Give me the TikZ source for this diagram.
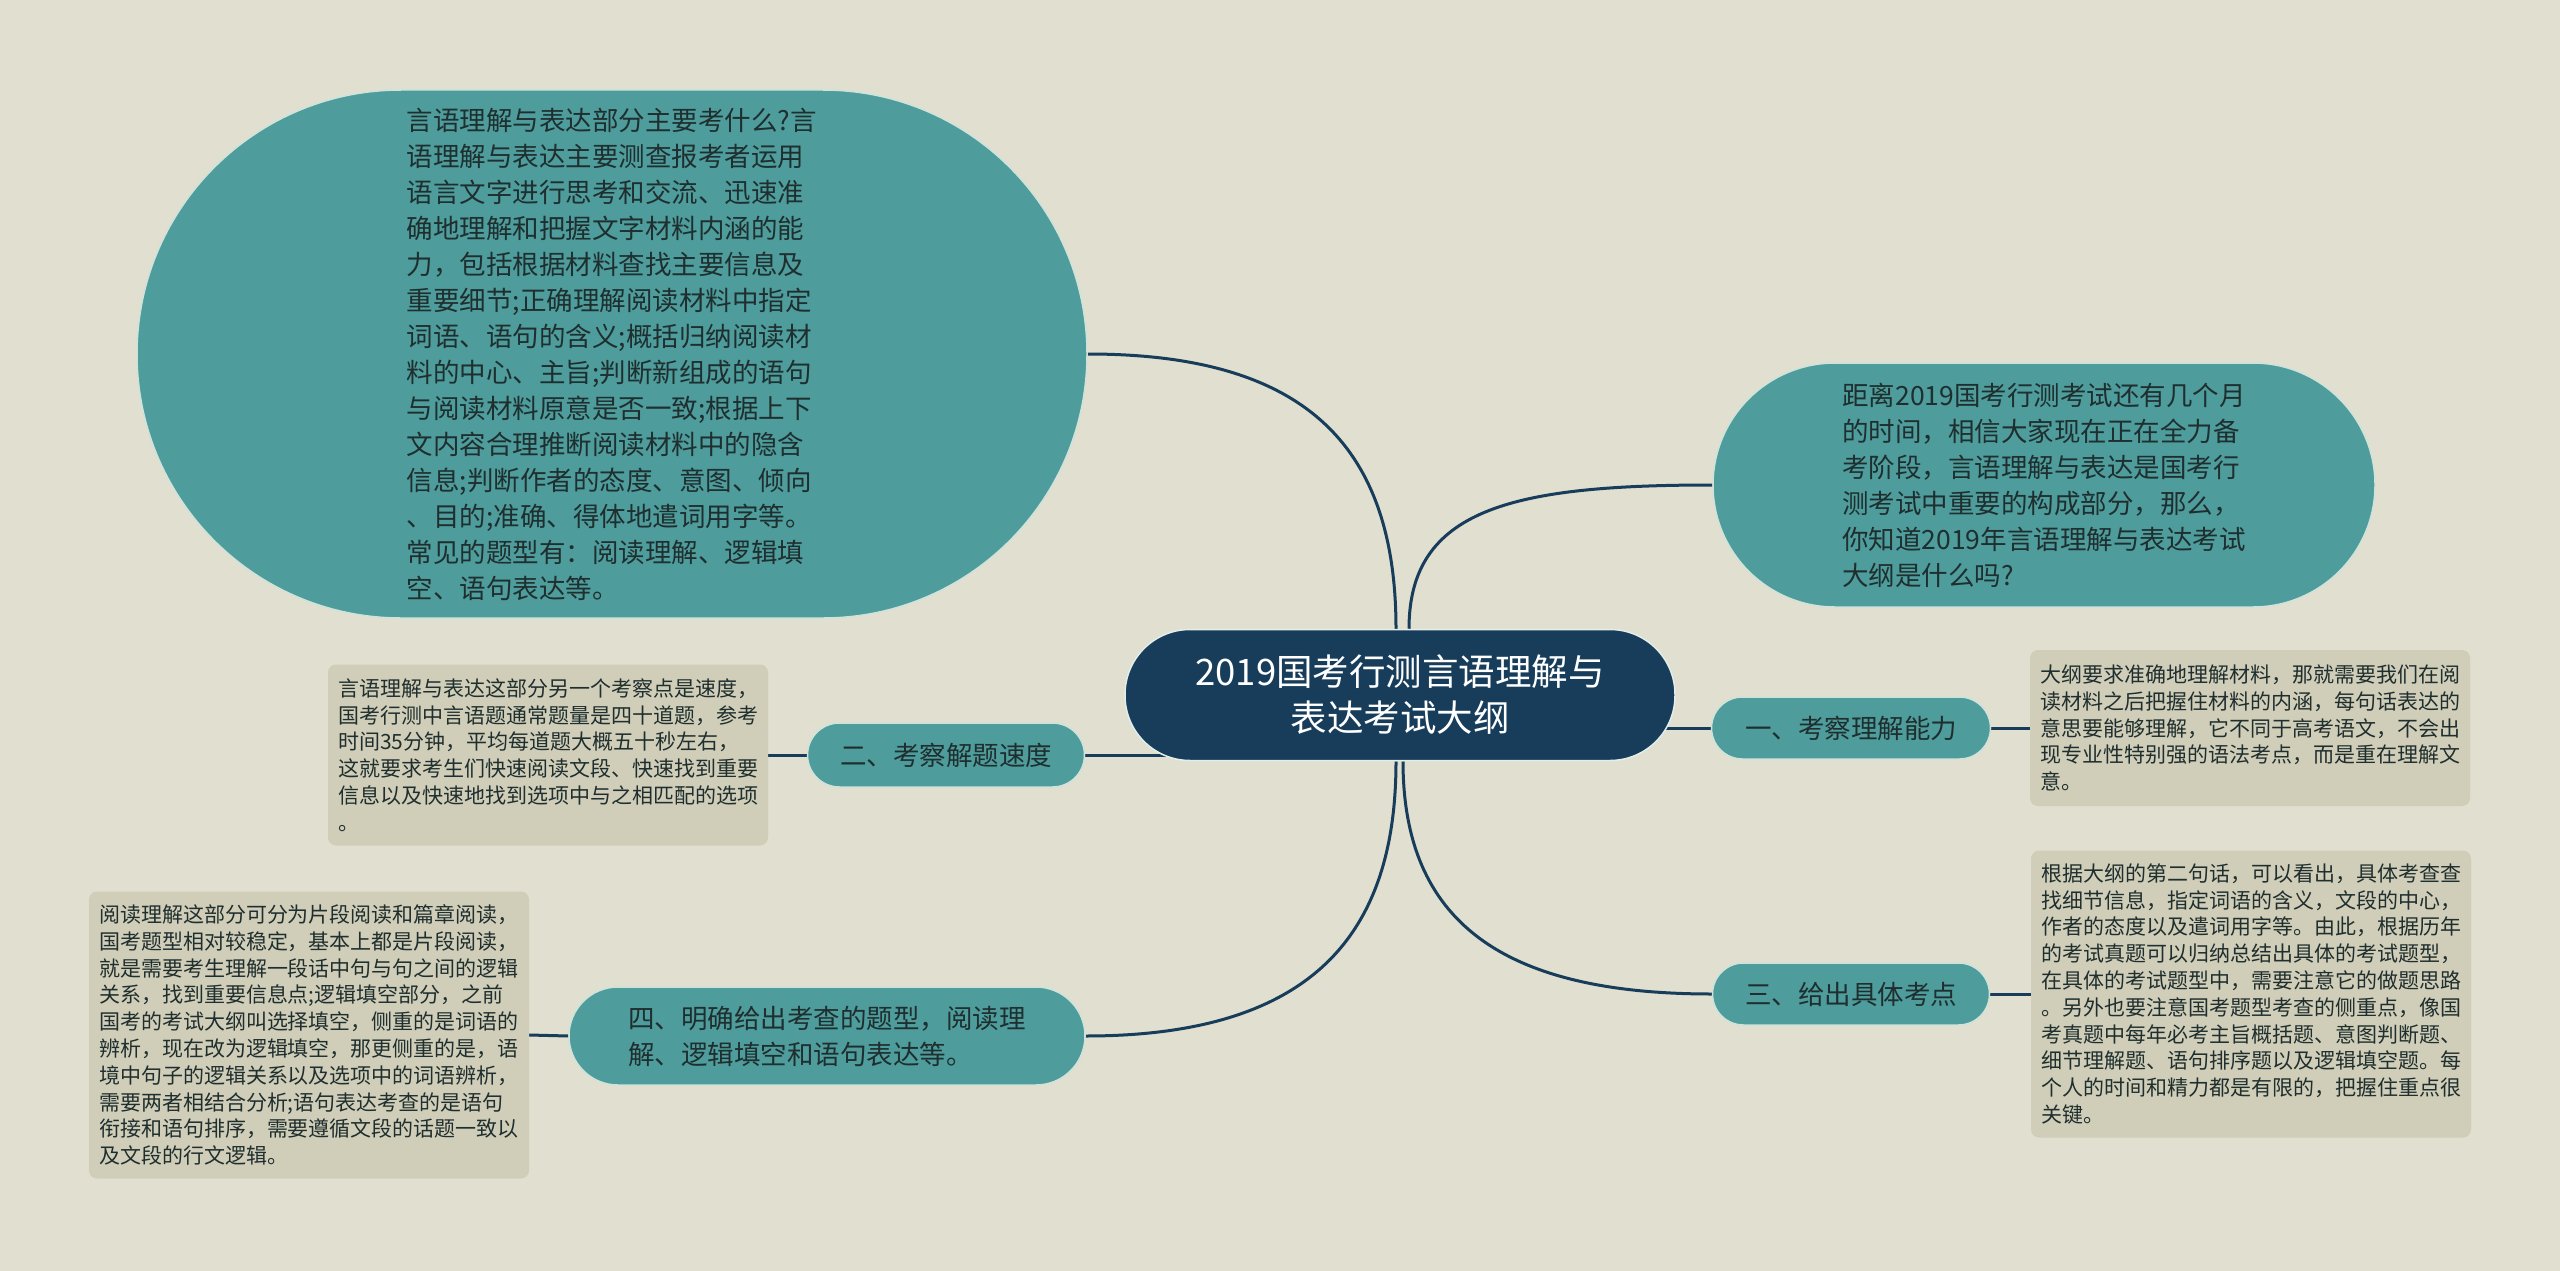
\documentclass[tikz,border=0pt]{standalone}
\usepackage{fontspec}
\setmainfont{Noto Sans CJK SC}
\usetikzlibrary{backgrounds}

\definecolor{bgpaper}{HTML}{E0DFD0}
\definecolor{tealfill}{HTML}{4E9C9C}
\definecolor{tealedge}{HTML}{CFE3DA}
\definecolor{navy}{HTML}{173D5B}
\definecolor{leaffill}{HTML}{D0CEB8}
\definecolor{inkdark}{HTML}{1F2E2E}

\tikzset{
  topic/.style={draw=tealedge, line width=1.5pt, fill=tealfill, text=inkdark,
    align=left, inner sep=0pt, font=\fontsize{26.5}{36}\selectfont},
  rootnode/.style={draw=tealedge!60, line width=1.5pt, fill=navy, text=white,
    align=center, inner sep=0pt, font=\fontsize{36.5}{46}\selectfont},
  leaf/.style={fill=leaffill, rounded corners=8pt, text=inkdark, align=left,
    text width=420pt, inner xsep=10pt, inner ysep=0pt,
    font=\fontsize{21}{26.8}\selectfont},
  link/.style={draw=navy, line width=3pt},
}

\begin{document}
\begin{tikzpicture}[x=1pt, y=-1pt]
        \useasboundingbox (0,0) rectangle (2560,1271);

        % centre
        \node[rootnode, minimum width=550pt, minimum height=131pt, rounded corners=65pt] (root) at (1400,695)
            {2019国考行测言语理解与\\表达考试大纲};

        % big topics
        \node[topic, minimum width=950pt, minimum height=528pt, rounded corners=264pt] (intro) at (612,354)
            {言语理解与表达部分主要考什么?言\\
             语理解与表达主要测查报考者运用\\
             语言文字进行思考和交流、迅速准\\
             确地理解和把握文字材料内涵的能\\
             力，包括根据材料查找主要信息及\\
             重要细节;正确理解阅读材料中指定\\
             词语、语句的含义;概括归纳阅读材\\
             料的中心、主旨;判断新组成的语句\\
             与阅读材料原意是否一致;根据上下\\
             文内容合理推断阅读材料中的隐含\\
             信息;判断作者的态度、意图、倾向\\
             、目的;准确、得体地遣词用字等。\\
             常见的题型有：阅读理解、逻辑填\\
             空、语句表达等。};
        \node[topic, minimum width=662pt, minimum height=244pt, rounded corners=122pt] (lead) at (2044,485)
            {距离2019国考行测考试还有几个月\\
             的时间，相信大家现在正在全力备\\
             考阶段，言语理解与表达是国考行\\
             测考试中重要的构成部分，那么，\\
             你知道2019年言语理解与表达考试\\
             大纲是什么吗?};

        % numbered topics
        \node[topic, minimum width=279pt, minimum height=62pt, rounded corners=31pt] (one) at (1851,728) {一、考察理解能力};
        \node[topic, minimum width=277pt, minimum height=64pt, rounded corners=32pt] (two) at (946,755) {二、考察解题速度};
        \node[topic, minimum width=277pt, minimum height=62pt, rounded corners=31pt] (three) at (1851,994) {三、给出具体考点};
        \node[topic, minimum width=516pt, minimum height=98pt, rounded corners=49pt] (four) at (827,1036)
            {四、明确给出考查的题型，阅读理\\解、逻辑填空和语句表达等。};

        % details
        \node[leaf, minimum height=156pt] (oneleaf) at (2250,728)
            {大纲要求准确地理解材料，那就需要我们在阅\\
             读材料之后把握住材料的内涵，每句话表达的\\
             意思要能够理解，它不同于高考语文，不会出\\
             现专业性特别强的语法考点，而是重在理解文\\
             意。};
        \node[leaf, minimum height=181pt] (twoleaf) at (548,755)
            {言语理解与表达这部分另一个考察点是速度，\\
             国考行测中言语题通常题量是四十道题，参考\\
             时间35分钟，平均每道题大概五十秒左右，\\
             这就要求考生们快速阅读文段、快速找到重要\\
             信息以及快速地找到选项中与之相匹配的选项\\
             。};
        \node[leaf, minimum height=287pt] (threeleaf) at (2251,994)
            {根据大纲的第二句话，可以看出，具体考查查\\
             找细节信息，指定词语的含义，文段的中心，\\
             作者的态度以及遣词用字等。由此，根据历年\\
             的考试真题可以归纳总结出具体的考试题型，\\
             在具体的考试题型中，需要注意它的做题思路\\
             。另外也要注意国考题型考查的侧重点，像国\\
             考真题中每年必考主旨概括题、意图判断题、\\
             细节理解题、语句排序题以及逻辑填空题。每\\
             个人的时间和精力都是有限的，把握住重点很\\
             关键。};
        \node[leaf, minimum height=287pt] (fourleaf) at (309,1035)
            {阅读理解这部分可分为片段阅读和篇章阅读，\\
             国考题型相对较稳定，基本上都是片段阅读，\\
             就是需要考生理解一段话中句与句之间的逻辑\\
             关系，找到重要信息点;逻辑填空部分，之前\\
             国考的考试大纲叫选择填空，侧重的是词语的\\
             辨析，现在改为逻辑填空，那更侧重的是，语\\
             境中句子的逻辑关系以及选项中的词语辨析，\\
             需要两者相结合分析;语句表达考查的是语句\\
             衔接和语句排序，需要遵循文段的话题一致以\\
             及文段的行文逻辑。};

        \begin{pgfonlayer}{background}
            \fill[bgpaper] (0,0) rectangle (2560,1271);

            \draw[link] (intro.east) .. controls +(210,0) and +(0,-190) .. ([xshift=-4pt]root.north);
            \draw[link] ([xshift=9pt]root.north) .. controls +(0,-120) and +(-200,0) .. (lead.west);
            \draw[link] ([xshift=-4pt]root.south) .. controls +(0,170) and +(230,0) .. (four.east);
            \draw[link] ([xshift=3pt]root.south) .. controls +(0,160) and +(-210,0) .. (three.west);
            \draw[link] (one.west) -- (one.west -| root.center);
            \draw[link] (two.east) -- (two.east -| root.center);

            \draw[link] (one.east) -- (oneleaf.west);
            \draw[link] (two.west) -- (twoleaf.east);
            \draw[link] (three.east) -- (threeleaf.west);
            \draw[link] (four.west) -- (fourleaf.east);
        \end{pgfonlayer}
    \end{tikzpicture}
\end{document}
